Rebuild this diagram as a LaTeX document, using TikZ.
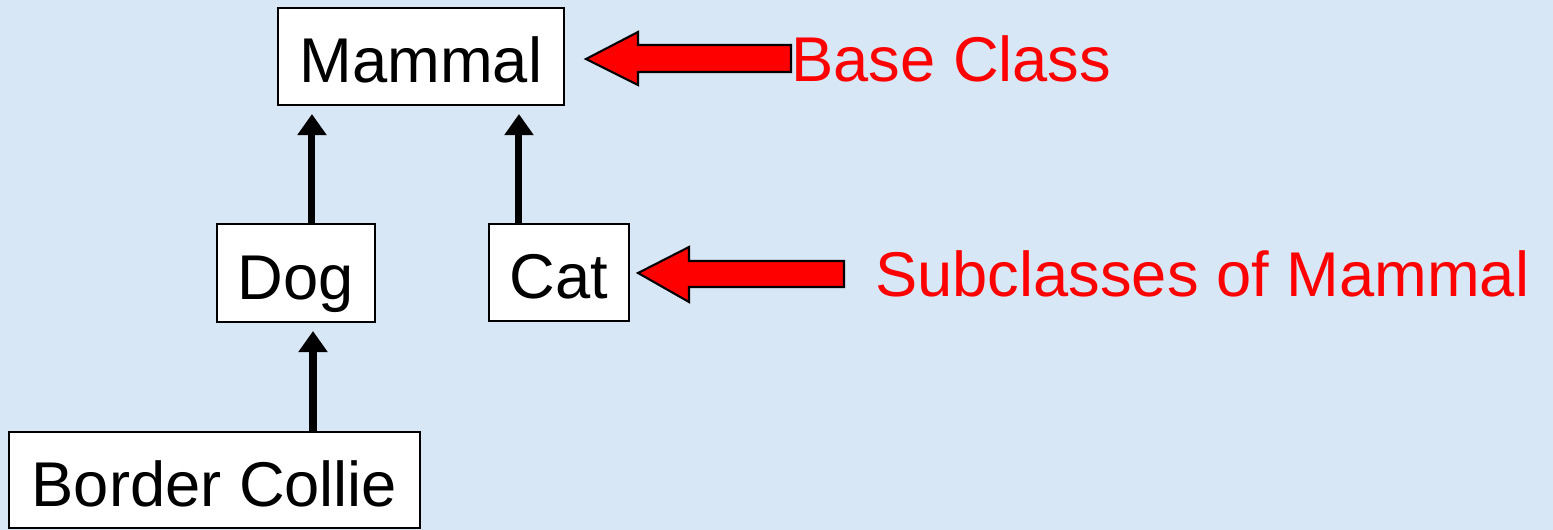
\documentclass[tikz,border=0pt]{standalone}
\usepackage{fontspec}
\setmainfont{Liberation Sans}
\usetikzlibrary{calc,arrows.meta}
\definecolor{paper}{RGB}{216,231,246}
\definecolor{signred}{RGB}{255,0,0}
\begin{document}
\begin{tikzpicture}[x=0.02cm,y=-0.02cm,
  classbox/.style={draw=black, line width=1.2pt, fill=white, inner sep=0pt,
    font=\fontsize{36}{40}\selectfont, text height=30pt, text depth=0pt},
  redlabel/.style={text=signred, inner sep=0pt, font=\fontsize{36}{40}\selectfont},
  inherits/.style={draw=black, line width=4pt, -{Triangle[length=12pt,width=16pt]}},
  blockarrow/.style={fill=signred, draw=black, line width=1.2pt, line join=miter}]
% backdrop
\fill[paper] (0,0) rectangle (1553,530);
\useasboundingbox (0,0) rectangle (1553,530);

% class hierarchy
\node[classbox, minimum width=5.72cm, minimum height=1.94cm] (mammal) at (421,56.5) {Mammal};
\node[classbox, minimum width=3.16cm, minimum height=1.96cm] (dog) at (296,273) {Dog};
\node[classbox, minimum width=2.80cm, minimum height=1.94cm] (cat) at (559,272.5) {Cat};
\node[classbox, minimum width=8.22cm, minimum height=1.92cm] (collie) at (214.5,480) {Border Collie};

% inheritance arrows
\coordinate (dogtip) at ($(mammal.south west)+(35,8)$);
\coordinate (cattip) at ($(mammal.south west)+(242,8)$);
\coordinate (collietip) at ($(dog.south)+(17,8)$);
\draw[inherits] (dogtip |- dog.north) -- (dogtip);
\draw[inherits] (cattip |- cat.north) -- (cattip);
\draw[inherits] (collietip |- collie.north) -- (collietip);

% annotations
\node[redlabel, anchor=base west] (baselbl) at (791,82) {Base Class};
\node[redlabel, anchor=base west] (sublbl) at (875,297) {Subclasses of Mammal};

\coordinate (basetip) at ($(mammal.east)+(21,2.5)$);
\coordinate (subtip) at ($(cat.east)+(8,0.5)$);
\draw[blockarrow] (basetip) -- ++(52,-27) -- ++(0,13) -- ++(153,0) -- ++(0,27)
  -- ++(-153,0) -- ++(0,13) -- cycle;
\draw[blockarrow] (subtip) -- ++(51,-26) -- ++(0,14) -- ++(155,0) -- ++(0,26)
  -- ++(-155,0) -- ++(0,15) -- cycle;
\end{tikzpicture}
\end{document}
